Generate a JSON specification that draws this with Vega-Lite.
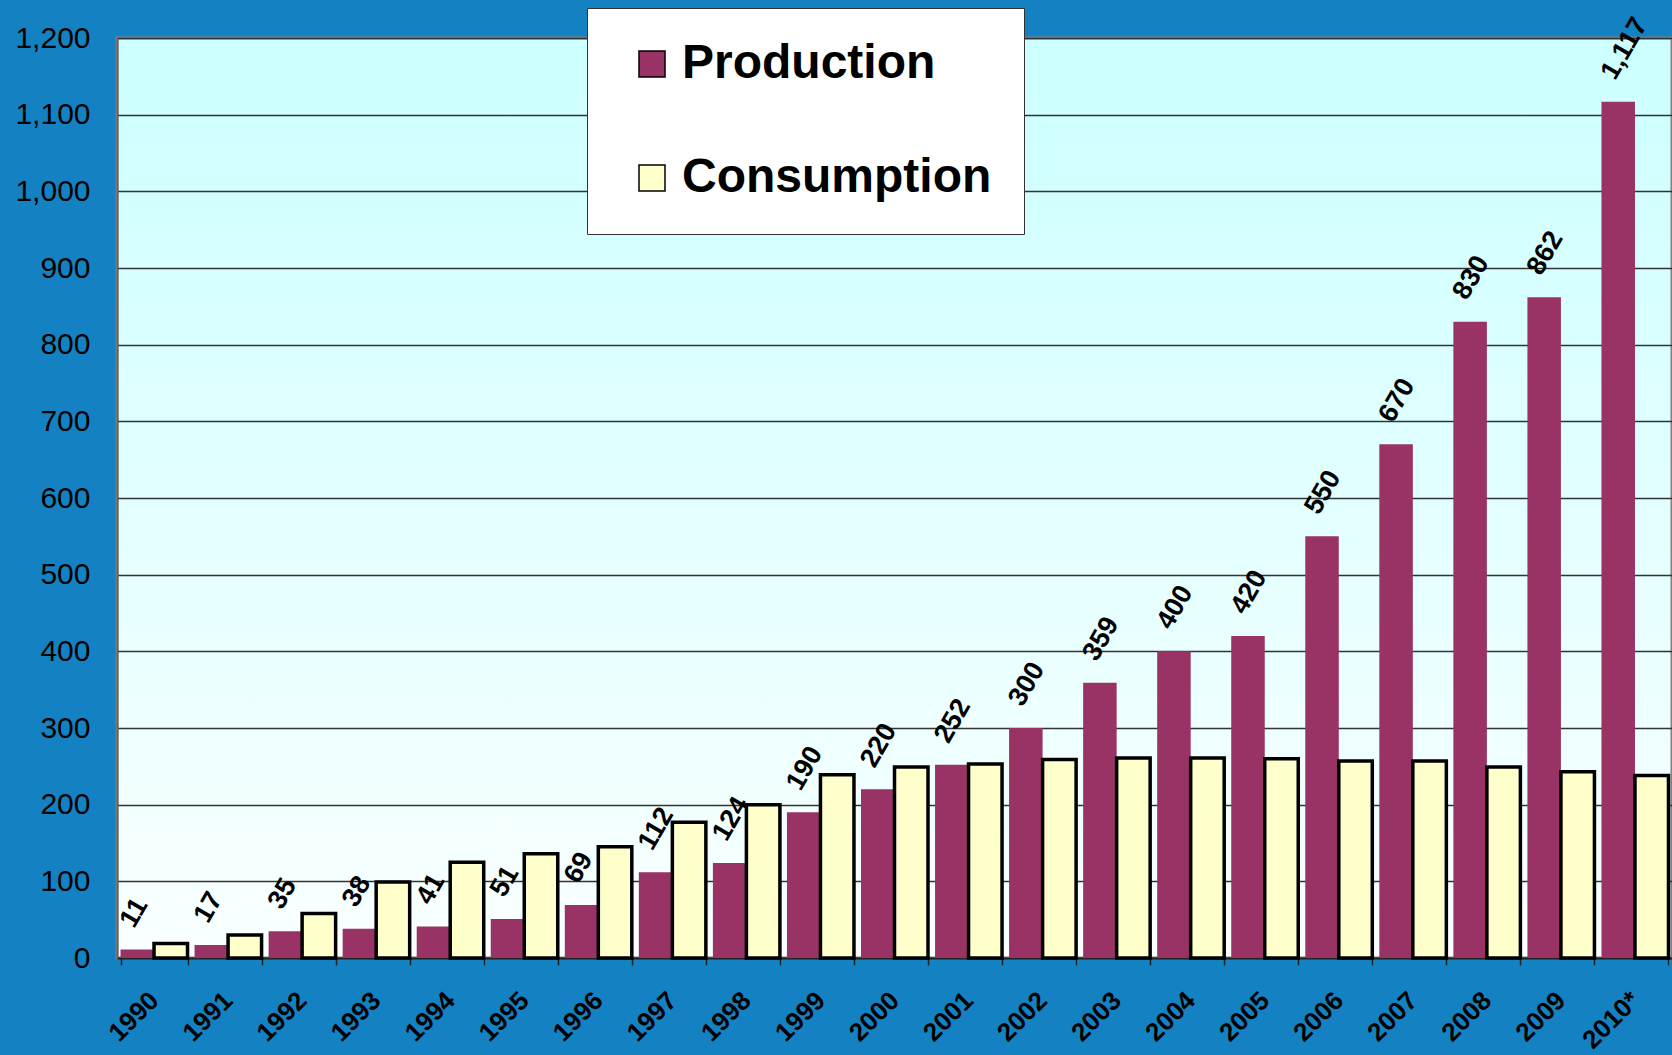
{
  "$schema": "https://vega.github.io/schema/vega-lite/v6.json",
  "width": 1555,
  "height": 920,
  "autosize": {"type": "none"},
  "padding": {"left": 117, "top": 38, "right": 0, "bottom": 97},
  "background": "#1482C2",
  "data": {
    "values": [
      {"year": "1990", "series": "Production", "value": 11},
      {"year": "1991", "series": "Production", "value": 17},
      {"year": "1992", "series": "Production", "value": 35},
      {"year": "1993", "series": "Production", "value": 38},
      {"year": "1994", "series": "Production", "value": 41},
      {"year": "1995", "series": "Production", "value": 51},
      {"year": "1996", "series": "Production", "value": 69},
      {"year": "1997", "series": "Production", "value": 112},
      {"year": "1998", "series": "Production", "value": 124},
      {"year": "1999", "series": "Production", "value": 190},
      {"year": "2000", "series": "Production", "value": 220},
      {"year": "2001", "series": "Production", "value": 252},
      {"year": "2002", "series": "Production", "value": 300},
      {"year": "2003", "series": "Production", "value": 359},
      {"year": "2004", "series": "Production", "value": 400},
      {"year": "2005", "series": "Production", "value": 420},
      {"year": "2006", "series": "Production", "value": 550},
      {"year": "2007", "series": "Production", "value": 670},
      {"year": "2008", "series": "Production", "value": 830},
      {"year": "2009", "series": "Production", "value": 862},
      {"year": "2010*", "series": "Production", "value": 1117},
      {"year": "1990", "series": "Consumption", "value": 19},
      {"year": "1991", "series": "Consumption", "value": 30},
      {"year": "1992", "series": "Consumption", "value": 58},
      {"year": "1993", "series": "Consumption", "value": 99},
      {"year": "1994", "series": "Consumption", "value": 125},
      {"year": "1995", "series": "Consumption", "value": 136},
      {"year": "1996", "series": "Consumption", "value": 145},
      {"year": "1997", "series": "Consumption", "value": 177},
      {"year": "1998", "series": "Consumption", "value": 200},
      {"year": "1999", "series": "Consumption", "value": 239},
      {"year": "2000", "series": "Consumption", "value": 249},
      {"year": "2001", "series": "Consumption", "value": 253},
      {"year": "2002", "series": "Consumption", "value": 259},
      {"year": "2003", "series": "Consumption", "value": 261},
      {"year": "2004", "series": "Consumption", "value": 261},
      {"year": "2005", "series": "Consumption", "value": 260},
      {"year": "2006", "series": "Consumption", "value": 257},
      {"year": "2007", "series": "Consumption", "value": 257},
      {"year": "2008", "series": "Consumption", "value": 249},
      {"year": "2009", "series": "Consumption", "value": 243},
      {"year": "2010*", "series": "Consumption", "value": 238}
    ]
  },
  "encoding": {
    "x": {
      "field": "year",
      "type": "nominal",
      "sort": null,
      "scale": {"paddingInner": 0.095, "paddingOuter": 0.0475},
      "axis": {
        "title": null,
        "labelAngle": -45,
        "labelAlign": "right",
        "labelBaseline": "middle",
        "labelFont": "Liberation Sans",
        "labelFontSize": 26,
        "labelFontWeight": "bold",
        "labelColor": "#000000",
        "labelPadding": 31,
        "tickBand": "extent",
        "tickSize": 7,
        "tickColor": "#222222",
        "tickWidth": 1.5,
        "domainColor": "#222222",
        "domainWidth": 2,
        "grid": false
      }
    },
    "xOffset": {
      "field": "series",
      "type": "nominal",
      "scale": {"domain": ["Production", "Consumption"], "paddingInner": 0, "paddingOuter": 0}
    },
    "y": {
      "field": "value",
      "type": "quantitative",
      "scale": {"domain": [0, 1200], "nice": false},
      "axis": {
        "title": null,
        "values": [0, 100, 200, 300, 400, 500, 600, 700, 800, 900, 1000, 1100, 1200],
        "format": ",.0f",
        "labelFont": "Liberation Sans",
        "labelFontSize": 30,
        "labelColor": "#000000",
        "labelPadding": 27,
        "ticks": false,
        "tickSize": 0,
        "domainColor": "#666666",
        "domainWidth": 2,
        "grid": true,
        "gridColor": "#333333",
        "gridWidth": 1.5
      }
    }
  },
  "layer": [
    {
      "mark": {"type": "bar", "stroke": "#000000"},
      "encoding": {
        "color": {
          "field": "series",
          "type": "nominal",
          "scale": {"domain": ["Production", "Consumption"], "range": ["#993366", "#FFFFCC"]},
          "legend": {
            "title": null,
            "orient": "none",
            "legendX": 470,
            "legendY": -30,
            "direction": "vertical",
            "symbolType": "square",
            "symbolSize": 676,
            "labelFont": "Liberation Sans",
            "labelFontSize": 48,
            "labelFontWeight": "bold",
            "labelColor": "#000000",
            "labelLimit": 500,
            "labelOffset": 6,
            "rowPadding": 66,
            "padding": 32,
            "symbolOffset": 9,
            "fillColor": "#FFFFFF",
            "strokeColor": "#333333",
            "encode": {
              "symbols": {
                "update": {
                  "stroke": {"signal": "datum.value === 'Consumption' ? '#000000' : 'transparent'"},
                  "strokeWidth": {"value": 3}
                }
              }
            }
          }
        },
        "strokeWidth": {
          "condition": {"test": "datum.series === 'Consumption'", "value": 3.5},
          "value": 0
        }
      }
    },
    {
      "transform": [{"filter": "datum.series === 'Production'"}],
      "mark": {
        "type": "text",
        "angle": 300,
        "align": "left",
        "baseline": "alphabetic",
        "dx": 16,
        "dy": -13,
        "font": "Liberation Sans",
        "fontSize": 27,
        "fontWeight": "bold",
        "color": "#000000"
      },
      "encoding": {
        "text": {"field": "value", "type": "quantitative", "format": ",.0f"}
      }
    }
  ],
  "config": {
    "view": {
      "fill": {
        "gradient": "linear",
        "x1": 0, "y1": 0, "x2": 0, "y2": 1,
        "stops": [
          {"offset": 0, "color": "#CCFFFF"},
          {"offset": 0.45, "color": "#E0FFFF"},
          {"offset": 1, "color": "#FAFFFF"}
        ]
      },
      "stroke": "#808080",
      "strokeWidth": 3
    }
  }
}
